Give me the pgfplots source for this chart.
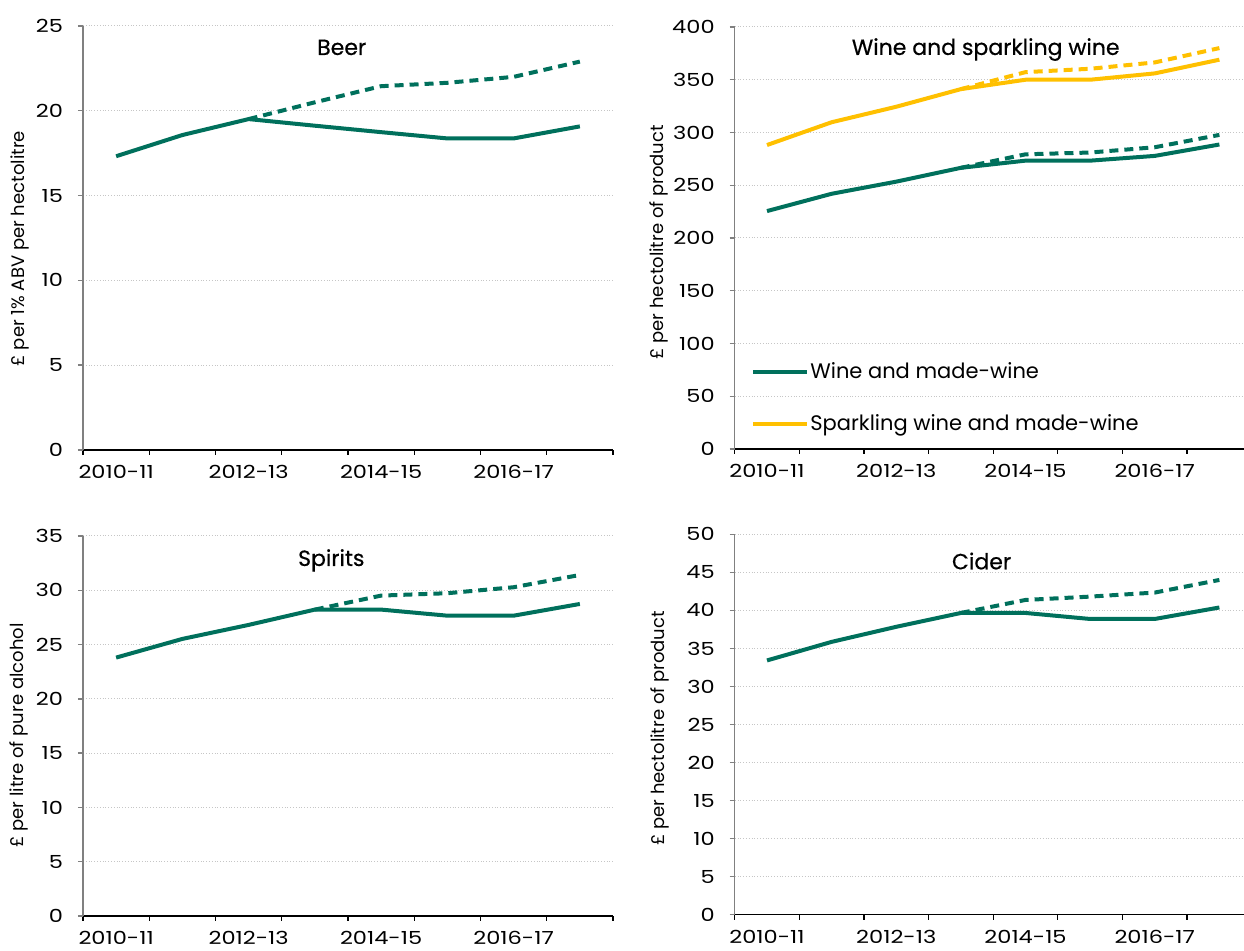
\documentclass[border=0pt]{standalone}
\usepackage{fontspec}
\setmainfont{Poppins}
\newfontfamily\titlefont{Poppins}[FakeBold=0.5]
\newfontfamily\tickfam{Poppins}[FakeStretch=1.25]
\usepackage{pgfplots}
\pgfplotsset{compat=1.18}
\definecolor{ifsgreen}{RGB}{0,112,92}
\definecolor{ifsyellow}{RGB}{255,192,0}
\newcommand\tickfont{\tickfam\fontsize{9}{10}\selectfont}
\newcommand\labfont{\fontsize{9}{10}\selectfont}
\newcommand\ttlfont{\titlefont\fontsize{11}{12}\selectfont}
\pgfplotsset{
 panel/.style={
  scale only axis,
  anchor=south west,
  xmin=-0.5, xmax=7.5,
  ymin=0,
  xtick={0,2,4,6},
  xticklabels={2010-11,2012-13,2014-15,2016-17},
  minor xtick={-0.5,0.5,...,7.5},
  major x tick style={draw=none},
  minor x tick style={black, line width=0.6pt},
  axis x line*=bottom, axis y line*=left,
  axis line style={-},
  x axis line style={black, line width=0.7pt},
  y axis line style={gray, line width=0.7pt},
  y tick style={gray, line width=0.7pt},
  tick align=outside,
  major tick length=2.5pt, minor tick length=2.5pt,
  ymajorgrids,
  grid style={densely dotted, gray!45, line width=0.5pt},
  tick label style={font=\tickfont},
  xticklabel style={yshift=-1.75pt},
  yticklabel style={xshift=-4pt},
  /pgf/number format/assume math mode=true,
  ylabel style={font=\labfont, anchor=center},
  clip=false,
 },
 sol/.style={line width=2pt, line join=round},
 dsh/.style={line width=2pt, dash pattern=on 4.5pt off 3pt, forget plot},
}
\begin{document}
\begin{tikzpicture}
\useasboundingbox (0,0) rectangle (622pt,475.5pt);
% Beer
\begin{axis}[panel, at={(41.5pt,250.5pt)}, width=265pt, height=212pt,
  ymax=25, ytick={0,5,...,25},
  ylabel={£ per 1\% ABV per hectolitre},
  ylabel style={at={(axis description cs:-0.119,0.475)}}]
\addplot[sol, ifsgreen] coordinates {(0,17.32) (1,18.57) (2,19.51) (3,19.12) (4,18.74) (5,18.37) (6,18.37) (7,19.08)};
\addplot[dsh, ifsgreen] coordinates {(2,19.51) (3,20.5) (4,21.45) (5,21.65) (6,22.0) (7,22.9)};
\node[anchor=base, font=\ttlfont] at (axis cs:3.405,23.29) {Beer};
\end{axis}
% Wine
\begin{axis}[panel, at={(367.35pt,251pt)}, width=258.5pt, height=211pt,
  ymax=400, ytick={0,50,...,400},
  ylabel={£ per hectolitre of product},
  ylabel style={at={(axis description cs:-0.146,0.49)}},
  legend cell align=left,
  legend style={at={(axis description cs:0.0315,0.1204)}, anchor=west, draw=none, fill=none,
    font=\fontsize{10.5}{12}\selectfont, row sep=12.35pt, inner sep=0pt},
  legend image code/.code={\draw[#1] (0pt,0pt) -- (25.5pt,0pt); \draw[#1,overlay] (25.5pt,0pt) -- (27pt,0pt);}]
\addplot[sol, ifsgreen] coordinates {(0,225.5) (1,241.9) (2,253.4) (3,266.5) (4,273.3) (5,273.3) (6,277.8) (7,288.6)};
\addlegendentry{Wine and made-wine}
\addplot[sol, ifsyellow] coordinates {(0,288.1) (1,309.7) (2,324.4) (3,341.1) (4,350.0) (5,350.0) (6,356.0) (7,369.0)};
\addlegendentry{Sparkling wine and made-wine}
\addplot[dsh, ifsgreen] coordinates {(3,266.5) (4,279.3) (5,281.0) (6,286.0) (7,297.7)};
\addplot[dsh, ifsyellow] coordinates {(3,341.1) (4,357.2) (5,360.4) (6,366.4) (7,380.0)};
\node[anchor=base, font=\ttlfont] at (axis cs:3.384,373.5) {Wine and sparkling wine};
\end{axis}
% Spirits
\begin{axis}[panel, at={(41.5pt,17.5pt)}, width=265pt, height=190pt,
  ymax=35, ytick={0,5,...,35},
  ylabel={£ per litre of pure alcohol},
  ylabel style={at={(axis description cs:-0.121,0.475)}}]
\addplot[sol, ifsgreen] coordinates {(0,23.80) (1,25.52) (2,26.81) (3,28.22) (4,28.22) (5,27.66) (6,27.66) (7,28.74)};
\addplot[dsh, ifsgreen] coordinates {(3,28.22) (4,29.51) (5,29.73) (6,30.28) (7,31.41)};
\node[anchor=base, font=\ttlfont] at (axis cs:3.248,32.24) {Spirits};
\end{axis}
% Cider
\begin{axis}[panel, at={(367.35pt,18.15pt)}, width=258.5pt, height=190.2pt,
  ymax=50, ytick={0,5,...,50},
  ylabel={£ per hectolitre of product},
  ylabel style={at={(axis description cs:-0.144,0.49)}}]
\addplot[sol, ifsgreen] coordinates {(0,33.42) (1,35.86) (2,37.84) (3,39.66) (4,39.66) (5,38.87) (6,38.87) (7,40.38)};
\addplot[dsh, ifsgreen] coordinates {(3,39.66) (4,41.37) (5,41.81) (6,42.34) (7,44.0)};
\node[anchor=base, font=\ttlfont] at (axis cs:3.32,45.4) {Cider};
\end{axis}
\end{tikzpicture}
\end{document}
